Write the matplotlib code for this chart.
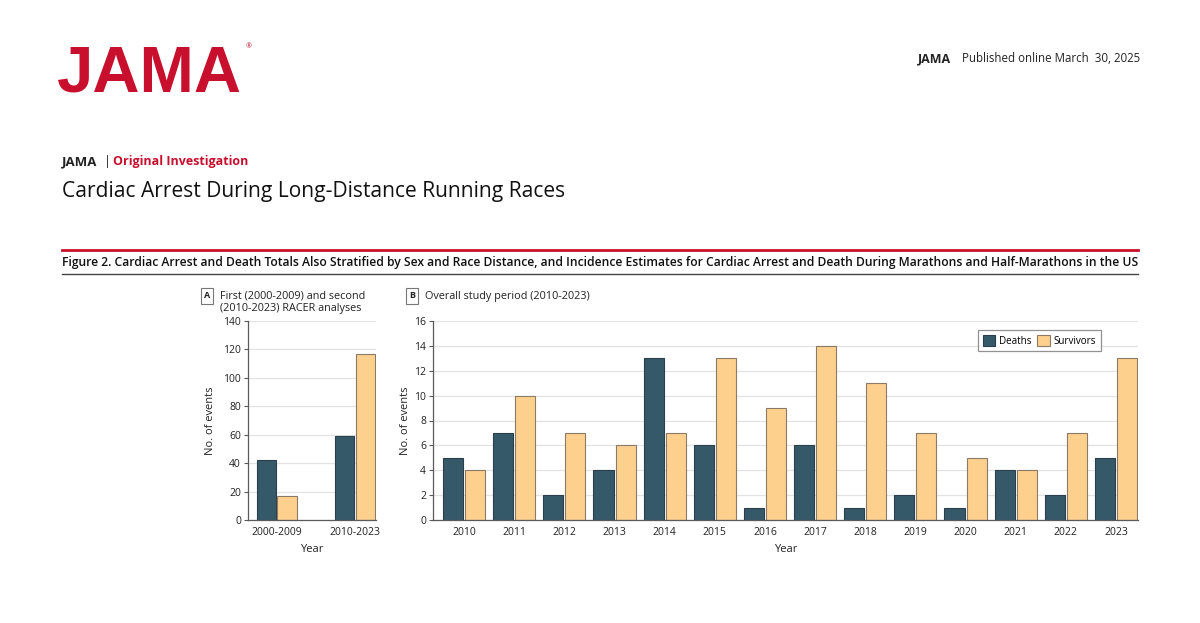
import numpy as np
import matplotlib.pyplot as plt
from matplotlib.lines import Line2D

plt.rcParams['font.family'] = ['Open Sans', 'DejaVu Sans']

# Panel A data
periods = ["2000-2009", "2010-2023"]
deaths_a = [42, 59]
survivors_a = [17, 117]

# Panel B data
years = [str(y) for y in range(2010, 2024)]
deaths_b = [5, 7, 2, 4, 13, 6, 1, 6, 1, 2, 1, 4, 2, 5]
survivors_b = [4, 10, 7, 6, 7, 13, 9, 14, 11, 7, 5, 4, 7, 13]

W, H = 1200, 623
DEATH = "#36596a"
SURV = "#fdd08e"
SURV_EDGE = "#8a7a66"
RED = "#c8102e"
GRID = "#e3e3e3"
SPINE = "#5a5a5a"


def fx(px):
    return px / W


def fy(py):
    return 1 - py / H


fig = plt.figure(figsize=(12, 6.23), dpi=100)

# header
fig.text(fx(57), fy(92), "JAMA", color=RED, fontsize=47, fontweight="bold",
         family="Liberation Sans", va="baseline", ha="left")
fig.text(fx(249), fy(47), "®", color=RED, fontsize=5, va="center", ha="center")
fig.text(fx(1140), fy(62), "Published online March  30, 2025", ha="right",
         va="baseline", fontsize=8.3, color="#222222")
fig.text(fx(918), fy(62), "JAMA", ha="left", va="baseline", fontsize=9,
         fontweight="bold", color="#222222")

fig.text(fx(62), fy(165), "JAMA", fontsize=9.5, fontweight="bold", va="baseline", color="#222222")
fig.text(fx(104), fy(165), "|", fontsize=9, va="baseline", color="#222222")
fig.text(fx(113), fy(165), "Original Investigation", fontsize=9, fontweight="bold",
         va="baseline", color=RED)
fig.text(fx(62), fy(197), "Cardiac Arrest During Long-Distance Running Races",
         fontsize=15.1, va="baseline", color="#111111")

fig.add_artist(Line2D([fx(62), fx(1138)], [fy(250), fy(250)], color=RED, lw=2))
fig.text(fx(62), fy(266), "Figure 2. Cardiac Arrest and Death Totals Also Stratified by Sex and Race Distance, "
         "and Incidence Estimates for Cardiac Arrest and Death During Marathons and Half-Marathons in the US",
         fontsize=8.75, fontweight="semibold", va="baseline", color="#111111")
fig.add_artist(Line2D([fx(62), fx(1138)], [fy(274), fy(274)], color="#444444", lw=1))


def style_axes(ax, ymax, step):
    ax.set_ylim(0, ymax)
    ax.set_yticks(np.arange(0, ymax + 1, step))
    ax.grid(axis="y", color=GRID, lw=0.9)
    ax.set_axisbelow(True)
    for s in ["top", "right"]:
        ax.spines[s].set_visible(False)
    for s in ["left", "bottom"]:
        ax.spines[s].set_color(SPINE)
        ax.spines[s].set_linewidth(0.9)
    ax.tick_params(axis="y", length=3, width=0.8, color=SPINE, labelsize=7.5,
                   labelcolor="#222222", pad=2)
    ax.tick_params(axis="x", length=0, labelsize=7.5, labelcolor="#222222", pad=5)
    ax.set_ylabel("No. of events", fontsize=8, color="#222222", labelpad=2)
    ax.set_xlabel("Year", fontsize=8, color="#222222", labelpad=4)


def panel_tag(x, y, letter, lines):
    fig.text(fx(x), fy(y), letter, fontsize=6.5, fontweight="bold", ha="center", va="center",
             color="#222222",
             bbox=dict(boxstyle="square,pad=0.35", fc="white", ec="#777777", lw=0.8))
    for i, line in enumerate(lines):
        fig.text(fx(x + 13), fy(y + 13 * i), line, fontsize=7.8, va="center", color="#222222")


# Panel A
axA = fig.add_axes([fx(248), fy(520), fx(376 - 248), (520 - 321) / H])
xa = np.arange(len(periods))
wa = 0.245
axA.bar(xa - 0.13, deaths_a, wa, color=DEATH, edgecolor="#2a3f4a", lw=0.8)
axA.bar(xa + 0.13, survivors_a, wa, color=SURV, edgecolor=SURV_EDGE, lw=0.8)
axA.set_xticks(xa)
axA.set_xticklabels(periods)
axA.set_xlim(-0.37, 1.27)
style_axes(axA, 140, 20)
axA.yaxis.labelpad = 5
panel_tag(207, 296, "A", ["First (2000-2009) and second", "(2010-2023) RACER analyses"])

# Panel B
axB = fig.add_axes([fx(433), fy(520), fx(1138 - 433), (520 - 321) / H])
xb = np.arange(len(years))
wb = 0.4
axB.bar(xb - 0.22, deaths_b, wb, color=DEATH, edgecolor="#2a3f4a", lw=0.8, label="Deaths")
axB.bar(xb + 0.22, survivors_b, wb, color=SURV, edgecolor=SURV_EDGE, lw=0.8, label="Survivors")
axB.set_xticks(xb)
axB.set_xticklabels(years)
axB.set_xlim(-0.62, 13.44)
style_axes(axB, 16, 2)
panel_tag(412, 296, "B", ["Overall study period (2010-2023)"])

leg = axB.legend(loc="upper right", bbox_to_anchor=(0.9475, 0.955), ncol=2, fontsize=7.1,
                 frameon=True, fancybox=False, edgecolor="#777777", handlelength=1.3,
                 handleheight=1.3, handletextpad=0.4, columnspacing=0.5, borderpad=0.5,
                 borderaxespad=0)
leg.get_frame().set_linewidth(0.9)

fig.savefig("out.png", dpi=100, facecolor="white")
